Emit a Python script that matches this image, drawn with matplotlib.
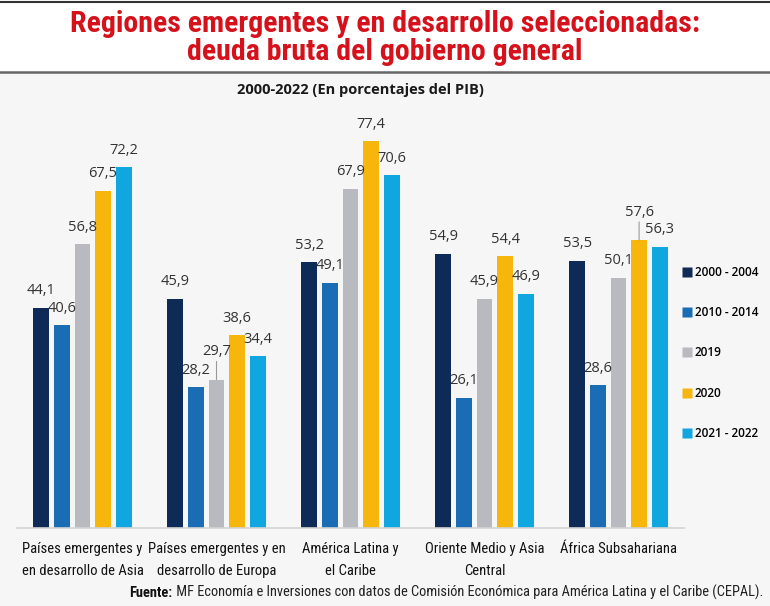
import matplotlib
matplotlib.use("Agg")
import matplotlib.pyplot as plt
from matplotlib import font_manager as fm
from matplotlib.lines import Line2D
import numpy as np

# ---------------- data ----------------
categories = [
    "Países emergentes y\nen desarrollo de Asia",
    "Países emergentes y en\ndesarrollo de Europa",
    "América Latina y\nel Caribe",
    "Oriente Medio y Asia\nCentral",
    "África Subsahariana",
]
series_names = ["2000 - 2004", "2010 - 2014", "2019", "2020", "2021 - 2022"]
v_2000_2004 = [44.1, 45.9, 53.2, 54.9, 53.5]
v_2010_2014 = [40.6, 28.2, 49.1, 26.1, 28.6]
v_2019 = [56.8, 29.7, 67.9, 45.9, 50.1]
v_2020 = [67.5, 38.6, 77.4, 54.4, 57.6]
v_2021_2022 = [72.2, 34.4, 70.6, 46.9, 56.3]
series_values = [v_2000_2004, v_2010_2014, v_2019, v_2020, v_2021_2022]
colors = ["#0e2a56", "#1a6cb4", "#b9b9c0", "#f6b60b", "#10a7e0"]
# labels that sit higher with a thin leader line: (series index, category index)
leader_labels = {(2, 1), (3, 4)}

title = "Regiones emergentes y en desarrollo seleccionadas:\ndeuda bruta del gobierno general"
subtitle = "2000-2022 (En porcentajes del PIB)"
src_bold = "Fuente:"
src_rest = " MF Economía e Inversiones con datos de Comisión Económica para América Latina y el Caribe (CEPAL)."


def pick(cands, weight="normal", stretch="normal"):
    for c in cands:
        try:
            fm.findfont(fm.FontProperties(family=c, weight=weight, stretch=stretch),
                        fallback_to_default=False)
            return c
        except Exception:
            continue
    return "DejaVu Sans"


cond = pick(["Liberation Sans Narrow", "Roboto Condensed", "Open Sans Condensed", "Roboto"])
body = pick(["Open Sans", "Noto Sans", "Lato", "DejaVu Sans"])

fig = plt.figure(figsize=(7.7, 6.06), dpi=100)
fig.patch.set_facecolor("#f6f6f6")

W, H = 770, 606
def fy(py):
    return 1 - py / H

hdr = plt.Rectangle((0, fy(72)), 1, 72 / H, transform=fig.transFigure,
                    facecolor="white", edgecolor="none", zorder=0)
fig.add_artist(hdr)
fig.add_artist(Line2D([0, 1], [fy(1.5), fy(1.5)], transform=fig.transFigure,
                      color="#333333", lw=1.5))
fig.add_artist(Line2D([0, 1], [fy(72), fy(72)], transform=fig.transFigure,
                      color="#666666", lw=1.8))

fig.text(0.5, fy(38.5), title, ha="center", va="center", color="#d5121b",
         fontsize=21.5, fontweight="bold", family=[cond, "DejaVu Sans"],
         linespacing=1.0)
fig.text(360 / W, fy(90), subtitle, ha="center", va="center", color="#1a1a1a",
         fontsize=10.5, fontweight="bold", family=[body, "DejaVu Sans"])

# axes
ax_left, ax_right = 17, 684
ax_base, ax_top = 528, 110
ax = fig.add_axes([ax_left / W, 1 - ax_base / H, (ax_right - ax_left) / W,
                   (ax_base - ax_top) / H])
ax.set_facecolor("none")

x = np.arange(len(categories))
step = 0.1537
width = 0.119
n = len(series_values)
for i, (vals, col, name) in enumerate(zip(series_values, colors, series_names)):
    pos = x + (i - (n - 1) / 2) * step
    ax.bar(pos, vals, width=width, color=col, label=name, zorder=2)
    for j, (px, v) in enumerate(zip(pos, vals)):
        txt = f"{v:.1f}".replace(".", ",")
        if (i, j) in leader_labels:
            ax.annotate("", xy=(px, v), xytext=(0, 13), textcoords="offset points",
                        arrowprops=dict(arrowstyle="-", color="#999999", lw=0.8,
                                        shrinkA=0, shrinkB=0))
            ax.annotate(txt, xy=(px, v), xytext=(0, 20), textcoords="offset points",
                        ha="center", va="center", fontsize=10.5, color="#333333",
                        family=[body, "DejaVu Sans"])
        else:
            ax.annotate(txt, xy=(px, v), xytext=(0, 12.2), textcoords="offset points",
                        ha="center", va="center", fontsize=10.5, color="#333333",
                        family=[body, "DejaVu Sans"])

ax.set_xlim(-0.489, 4.489)
ax.set_ylim(0, (ax_base - ax_top) / 5.0)
for s in ["left", "right", "top"]:
    ax.spines[s].set_visible(False)
ax.spines["bottom"].set_color("#d4d4d4")
ax.spines["bottom"].set_linewidth(1.2)
ax.set_yticks([])
ax.set_xticks(x)
ax.set_xticklabels(categories, fontsize=10.5, color="#111111",
                   family=[cond, "DejaVu Sans"], fontweight="normal",
                   linespacing=1.75)
ax.tick_params(axis="x", length=0, pad=10)

handles = [Line2D([], [], marker="s", linestyle="none", markersize=7,
                  markerfacecolor=c, markeredgecolor="none") for c in colors]
fig.legend(handles, series_names, loc="center left",
           bbox_to_anchor=(682 / W, fy(353)), frameon=False, borderpad=0,
           borderaxespad=0, handlelength=0.8, handletextpad=0.3,
           labelspacing=2.3,
           prop=dict(family=[body, "DejaVu Sans"], size=8.5, weight="semibold"))

t_rest = fig.text(763 / W, fy(597), src_rest, ha="right", va="baseline",
                  fontsize=10.4, color="#222222", family=[cond, "DejaVu Sans"])
fig.canvas.draw()
bb = t_rest.get_window_extent()
fig.text(bb.x0 / W, fy(597), src_bold, ha="right", va="baseline", fontsize=10.4,
         fontweight="bold", color="#111111", family=[cond, "DejaVu Sans"])

fig.savefig("out.png", dpi=100, facecolor=fig.get_facecolor())
